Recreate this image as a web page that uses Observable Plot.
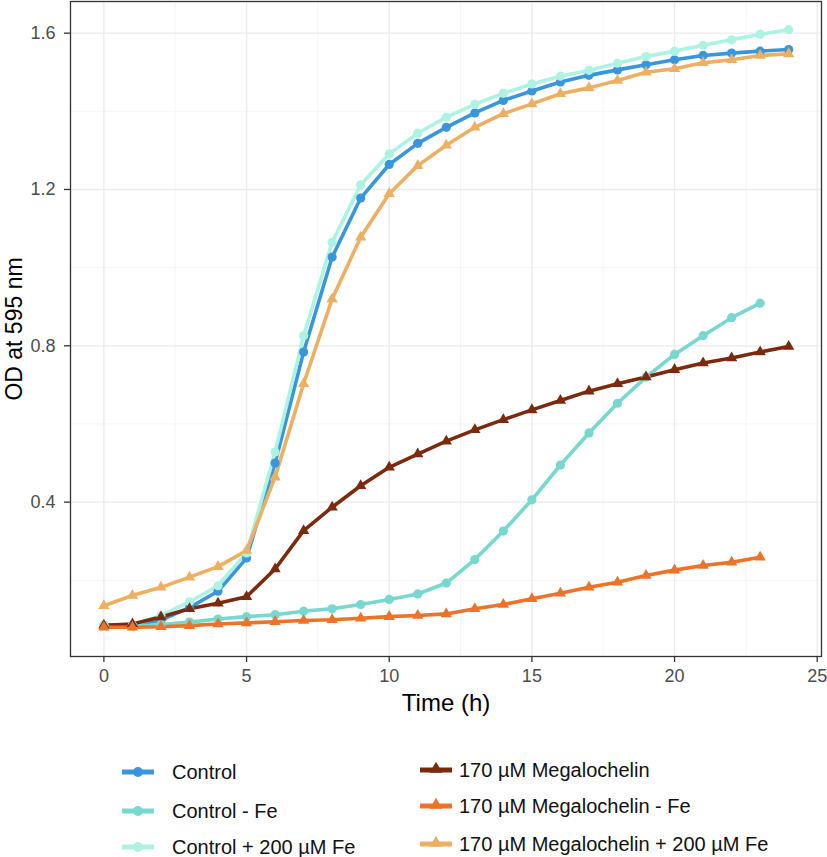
<!DOCTYPE html>
<html><head><meta charset="utf-8">
<script src="https://cdn.jsdelivr.net/npm/d3@7"></script>
<script src="https://cdn.jsdelivr.net/npm/@observablehq/plot@0.6"></script>
<style>
body{margin:0;background:#fff;font-family:"Liberation Sans",Arial,Helvetica,sans-serif;}
#chart svg{display:block;}
#legend{position:relative;width:827px;height:137px;}
.item{position:absolute;display:flex;align-items:center;font-size:20px;color:#111;white-space:nowrap;line-height:1;}
.item svg{display:block;margin-right:0;}
</style></head><body>
<div id="chart"></div><div id="legend"></div>
<script>
// ---- data ----
const hours = [0,1,2,3,4,5,6,7,8,9,10,11,12,13,14,15,16,17,18,19,20,21,22,23,24];
const seriesNames = ["Control","Control - Fe","Control + 200 µM Fe","170 µM Megalochelin","170 µM Megalochelin - Fe","170 µM Megalochelin + 200 µM Fe"];
const seriesColors = ["#3A96DA","#76D8CF","#ADF3E4","#7B2A0D","#EC7328","#EDB062"];
const seriesSymbols = ["circle","circle","circle","triangle","triangle","triangle"];
const control       = [0.085,0.085,0.098,0.130,0.172,0.257,0.500,0.784,1.027,1.178,1.264,1.318,1.359,1.396,1.428,1.452,1.475,1.492,1.506,1.519,1.532,1.543,1.549,1.554,1.558];
const controlMinusFe= [0.085,0.082,0.087,0.093,0.101,0.107,0.112,0.121,0.127,0.138,0.151,0.165,0.193,0.253,0.326,0.406,0.495,0.577,0.653,0.720,0.778,0.826,0.872,0.909];
const controlPlusFe = [0.085,0.085,0.110,0.145,0.186,0.270,0.528,0.826,1.065,1.212,1.291,1.344,1.385,1.418,1.446,1.470,1.490,1.505,1.523,1.540,1.554,1.569,1.583,1.597,1.609];
const mega          = [0.085,0.088,0.106,0.127,0.141,0.158,0.229,0.327,0.387,0.442,0.489,0.523,0.556,0.585,0.611,0.636,0.660,0.684,0.703,0.720,0.739,0.756,0.769,0.784,0.798];
const megaMinusFe   = [0.080,0.080,0.081,0.084,0.088,0.091,0.094,0.097,0.099,0.103,0.107,0.110,0.114,0.127,0.138,0.153,0.167,0.182,0.195,0.212,0.226,0.238,0.246,0.259];
const megaPlusFe    = [0.135,0.161,0.182,0.208,0.235,0.276,0.464,0.703,0.920,1.078,1.189,1.261,1.313,1.359,1.394,1.419,1.445,1.460,1.479,1.500,1.509,1.524,1.532,1.543,1.547];
const xTicks = [0,5,10,15,20,25];
const xMinor = [2.5,7.5,12.5,17.5,22.5];
const yTicks = [0.4,0.8,1.2,1.6];
const yMinor = [0.2,0.6,1.0,1.4];
const xTitle = "Time (h)";
const yTitle = "OD at 595 nm";

const allValues = [control,controlMinusFe,controlPlusFe,mega,megaMinusFe,megaPlusFe];
const rows = [];
allValues.forEach((vals, s) => vals.forEach((v, i) => rows.push({series: seriesNames[s], time: hours[i], od: v})));

const lineMarks = seriesNames.map((name, s) =>
  Plot.line(rows.filter(d => d.series === name), {x: "time", y: "od", stroke: seriesColors[s], strokeWidth: 3.6, strokeLinejoin: "round"}));
const dotMarks = seriesNames.map((name, s) =>
  Plot.dot(rows.filter(d => d.series === name), {x: "time", y: "od", fill: seriesColors[s], symbol: seriesSymbols[s], r: seriesSymbols[s] === "circle" ? 4.6 : 4.2}));

const W = 827, H = 720;
const chart = Plot.plot({
  width: W, height: H,
  marginLeft: 70, marginRight: 6, marginTop: 1, marginBottom: 64,
  style: {fontFamily: '"Liberation Sans", Arial, Helvetica, sans-serif', background: "#fff", overflow: "visible"},
  x: {domain: [-1.17, 25.15]},
  y: {domain: [0.005, 1.681]},
  marks: [
    Plot.ruleX(xMinor, {stroke: "#F3F3F3", strokeWidth: 0.8}),
    Plot.ruleY(yMinor, {stroke: "#F3F3F3", strokeWidth: 0.8}),
    Plot.ruleX(xTicks, {stroke: "#EBEBEB", strokeWidth: 1.3}),
    Plot.ruleY(yTicks, {stroke: "#EBEBEB", strokeWidth: 1.3}),
    ...lineMarks,
    ...dotMarks,
    Plot.frame({stroke: "#333333", strokeWidth: 1.3}),
    Plot.axisX(xTicks, {tickSize: 6, tickPadding: 7, fontSize: 18, stroke: "#333333", fill: "#4D4D4D", strokeWidth: 1.3, label: null}),
    Plot.axisY(yTicks, {tickSize: 6, tickPadding: 9, fontSize: 18, stroke: "#333333", fill: "#4D4D4D", strokeWidth: 1.3, tickFormat: d3.format(".1f"), label: null}),
    Plot.text([xTitle], {frameAnchor: "bottom", dy: 47, text: d => d, fontSize: 24, fill: "#000", lineAnchor: "middle", textAnchor: "middle"}),
    Plot.text([yTitle], {frameAnchor: "left", dx: -56, text: d => d, fontSize: 23, fill: "#000", rotate: -90, lineAnchor: "middle", textAnchor: "middle"})
  ]
});
document.getElementById("chart").appendChild(chart);

// ---- legend (HTML below the SVG) ----
const legendPos = [
  {x: 122, y: 52}, {x: 122, y: 91}, {x: 122, y: 127},
  {x: 420, y: 50}, {x: 420, y: 86}, {x: 420, y: 124}
];
const textGap = [18, 18, 18, 7, 7, 7];
const legend = document.getElementById("legend");
seriesNames.forEach((name, s) => {
  const item = document.createElement("div");
  item.className = "item";
  item.style.left = legendPos[s].x + "px";
  item.style.top = (legendPos[s].y - 12) + "px";
  item.style.height = "24px";
  const svgNS = "http://www.w3.org/2000/svg";
  const sw = document.createElementNS(svgNS, "svg");
  sw.setAttribute("width", 32); sw.setAttribute("height", 24);
  const ln = document.createElementNS(svgNS, "line");
  ln.setAttribute("x1", 0); ln.setAttribute("x2", 32); ln.setAttribute("y1", 12); ln.setAttribute("y2", 12);
  ln.setAttribute("stroke", seriesColors[s]); ln.setAttribute("stroke-width", 5);
  sw.appendChild(ln);
  if (seriesSymbols[s] === "circle") {
    const c = document.createElementNS(svgNS, "circle");
    c.setAttribute("cx", 16); c.setAttribute("cy", 12); c.setAttribute("r", 5);
    c.setAttribute("fill", seriesColors[s]);
    sw.appendChild(c);
  } else {
    const p = document.createElementNS(svgNS, "path");
    p.setAttribute("d", d3.symbol(d3.symbolTriangle, 70)());
    p.setAttribute("transform", "translate(16,11)");
    p.setAttribute("fill", seriesColors[s]);
    sw.appendChild(p);
  }
  item.appendChild(sw);
  const span = document.createElement("span");
  span.textContent = name;
  span.style.marginLeft = textGap[s] + "px";
  item.appendChild(span);
  legend.appendChild(item);
});
</script>
</body></html>
